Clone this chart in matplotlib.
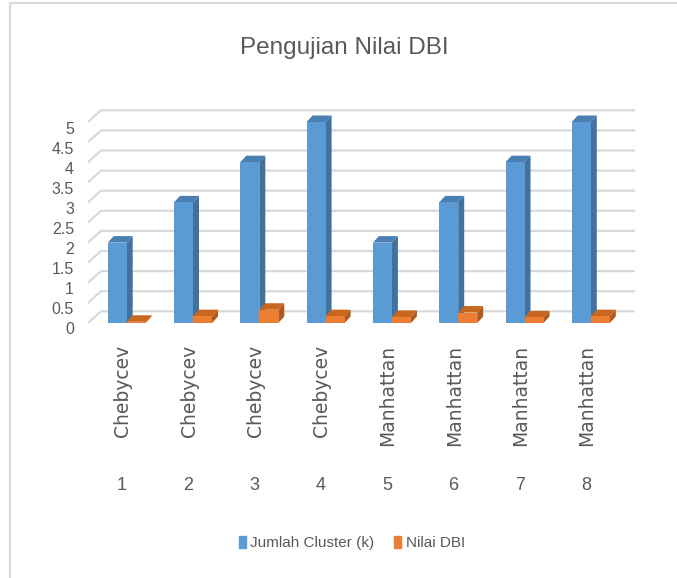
import numpy as np
from matplotlib import pyplot as plt
from matplotlib.patches import Patch
from matplotlib.lines import Line2D

# data
categories = ["Chebycev", "Chebycev", "Chebycev", "Chebycev",
              "Manhattan", "Manhattan", "Manhattan", "Manhattan"]
numbers = ["1", "2", "3", "4", "5", "6", "7", "8"]
jumlah_cluster = [2, 3, 4, 5, 2, 3, 4, 5]
nilai_dbi = [0.03, 0.17, 0.33, 0.17, 0.15, 0.26, 0.14, 0.17]
y_ticks = [0, 0.5, 1, 1.5, 2, 2.5, 3, 3.5, 4, 4.5, 5]

SANS = ["Liberation Sans", "DejaVu Sans"]
GREY = "#595959"
GRID = "#d9d9d9"

BLUE = ("#5b9bd5", "#41719c", "#4a7fb3")     # front, side, top
ORANGE = ("#ed7d31", "#ae5a21", "#c9671f")


def main():
    W, H = 677, 578
    fig = plt.figure(figsize=(W / 100, H / 100), dpi=100)

    # axes over the whole figure; pixel -> data mapping chosen so that
    # category i sits at x=i and value v at y=v
    px_per_x, px_per_y = 66.3, 40.2
    x0_px, y0_px = 126.7, 323
    ax = fig.add_axes([0, 0, 1, 1])
    ax.set_xlim(-x0_px / px_per_x, (W - x0_px) / px_per_x)
    ax.set_ylim((y0_px - H) / px_per_y, y0_px / px_per_y)
    ax.axis("off")

    # 3d depth of the back wall and of the bars
    wall_dx, wall_dy = 13 / px_per_x, 11.7 / px_per_y
    bar_dx, bar_dy = 6 / px_per_x, 6.5 / px_per_y
    bw = 19 / px_per_x

    x_front_left = (88 - x0_px) / px_per_x
    x_back_left = x_front_left + wall_dx
    x_back_right = (635 - x0_px) / px_per_x

    # gridlines on the back wall + left wall diagonals
    for v in y_ticks:
        ax.plot([x_front_left, x_back_left, x_back_right],
                [v, v + wall_dy, v + wall_dy],
                color=GRID, lw=1.6, zorder=1, solid_capstyle="butt")
        ax.text((74 - x0_px) / px_per_x, v - 7 / px_per_y, f"{v:g}",
                ha="right", va="center", color=GREY, fontsize=11.5,
                family=SANS)

    # bars: front face with ax.bar, side and top with polygons
    x = np.arange(len(categories))
    z = 2
    for i in x:
        for vals, cols, left in ((jumlah_cluster, BLUE, i - bw),
                                 (nilai_dbi, ORANGE, i)):
            v = vals[i]
            right = left + bw
            ax.fill([right, right + bar_dx, right + bar_dx, right],
                    [0, bar_dy, v + bar_dy, v],
                    color=cols[1], lw=0, zorder=z)
            ax.fill([left, left + bar_dx, right + bar_dx, right],
                    [v, v + bar_dy, v + bar_dy, v],
                    color=cols[2], lw=0, zorder=z)
            ax.bar(left, v, width=bw, align="edge", color=cols[0],
                   lw=0, zorder=z + 1)
            z += 2

    # category labels
    for i, (cat, num) in enumerate(zip(categories, numbers)):
        ax.text(i - 0.06, (y0_px - 345) / px_per_y, cat, rotation=90,
                ha="center", va="top", color=GREY, fontsize=13.5,
                family="DejaVu Sans")
        ax.text(i - 0.07, (y0_px - 485) / px_per_y, num,
                ha="center", va="center", color=GREY, fontsize=13,
                family=SANS)

    fig.text(344 / W, 1 - 48 / H, "Pengujian Nilai DBI", ha="center",
             va="center", color=GREY, fontsize=17.5, family=SANS)

    handles = [Patch(color=BLUE[0], label="Jumlah Cluster (k)"),
               Patch(color=ORANGE[0], label="Nilai DBI")]
    leg = fig.legend(handles=handles, loc="center",
                     bbox_to_anchor=(352 / W, 1 - 543 / H), ncol=2,
                     frameon=False, handlelength=0.45, handleheight=0.9,
                     handletextpad=0.3, columnspacing=1.3,
                     prop={"family": SANS, "size": 11})
    for t in leg.get_texts():
        t.set_color(GREY)

    # chart area border (left and top edges visible)
    fig.add_artist(Line2D([10 / W, 10 / W, 1], [0, 1 - 3 / H, 1 - 3 / H],
                          color=GRID, lw=1.5))

    fig.savefig("out.png", dpi=100)
    plt.close(fig)


if __name__ == "__main__":
    main()
